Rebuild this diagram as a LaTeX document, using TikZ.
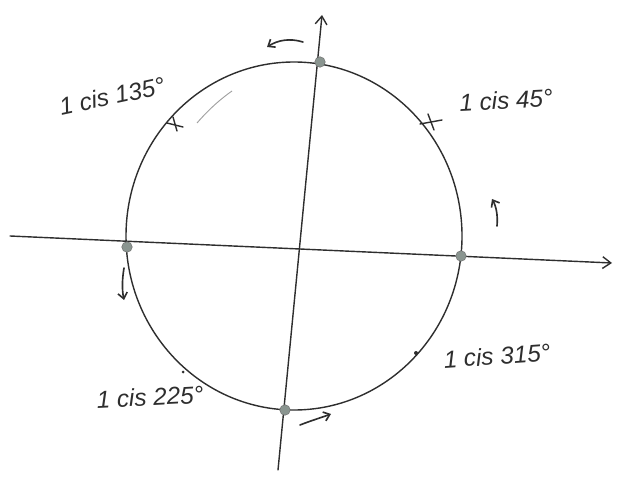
\documentclass[tikz,border=0pt]{standalone}
\usepackage{fontspec}
\setmainfont{Liberation Sans}
\usetikzlibrary{arrows.meta,calc}
\definecolor{pencil}{HTML}{2E2E2E}
\definecolor{dotgray}{HTML}{8A9590}
\tikzset{
  stroke/.style={draw=pencil, line width=1.2pt, line cap=round},
  axisline/.style={stroke, -{Straight Barb[length=7pt,width=10pt]}},
  hint/.style={stroke, line width=1.4pt, -{Straight Barb[length=5pt,width=8pt]}},
  pt/.style={circle, fill=dotgray, draw=pencil!70, line width=0.4pt, inner sep=0pt, minimum size=9pt},
  lab/.style={text=pencil, font=\itshape\huge, inner sep=1pt}
}
\begin{document}
\begin{tikzpicture}[x=0.03cm, y=-0.03cm]
\useasboundingbox (0,0) rectangle (627,486);
% axes
\coordinate (xl) at (10,236);
\coordinate (xr) at (612,263);
\coordinate (yt) at (322,15);
\coordinate (yb) at (278,470);
\draw[axisline] (xl) -- (xr);
\draw[axisline] (yb) -- (yt);
% circle
\draw[stroke] (294,236) ellipse [x radius=168, y radius=174];
% faint extra stroke near 135
\draw[draw=pencil!45, line width=0.8pt] (197,123) .. controls (210,108) and (222,98) .. (232,91);
% points on axes
\node[pt] (top) at (320,62) {};
\node[pt] (left) at (127,247) {};
\node[pt] (right) at (461,256) {};
\node[pt] (bot) at (285,410) {};
% crosses
\coordinate (c135) at (175,124);
\coordinate (c45) at (431,122);
\draw[stroke] ($(c135)+(-8,-1)$) -- ($(c135)+(8,3)$);
\draw[stroke] ($(c45)+(-11,2)$) -- ($(c45)+(11,-2)$);
\draw[stroke] ($(c45)+(-3,-8)$) -- ($(c45)+(3,8)$);
\draw[stroke] ($(c135)+(-2,-7)$) -- ($(c135)+(2,7)$);
% small ticks
\fill[pencil] (416,353) circle (2);
\fill[pencil] (183,372) circle (1.5);
% labels
\node[lab, rotate=12] (l135) at (112,96) {1 cis 135°};
\node[lab, rotate=3] (l45) at (506,100) {1 cis 45°};
\node[lab, rotate=4] (l315) at (497,356) {1 cis 315°};
\node[lab, rotate=3] (l225) at (150,397) {1 cis 225°};
% direction hints
\draw[hint] (303,42) .. controls (290,38) and (278,40) .. (267,47);
\draw[hint] (124,268) .. controls (122,280) and (122,290) .. (124,300);
\draw[hint] (497,226) .. controls (498,215) and (496,206) .. (492,199);
\draw[hint] (300,425) .. controls (310,421) and (320,418) .. (331,414);
\end{tikzpicture}
\end{document}
